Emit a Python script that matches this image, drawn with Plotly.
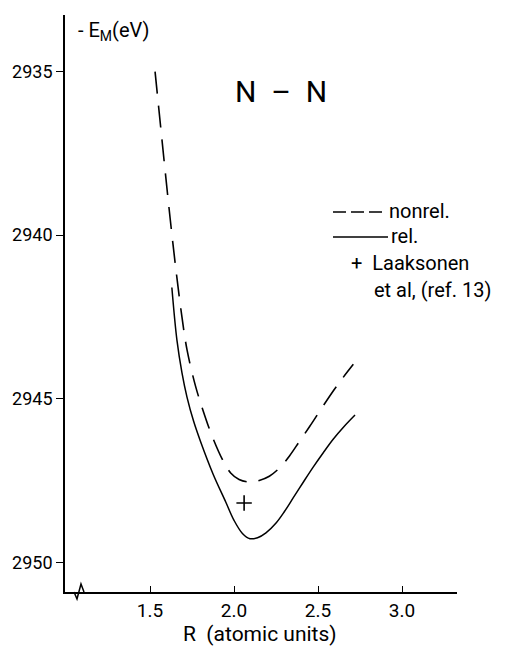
import plotly.graph_objects as go

# ---- data ----
r_nonrel = [1.53, 1.62, 1.66, 1.69, 1.72, 1.77, 1.815, 1.87, 1.935, 1.98, 2.03, 2.095, 2.15, 2.21, 2.27, 2.33, 2.39, 2.45, 2.51, 2.58, 2.645, 2.71]
e_nonrel = [2935.0, 2939.5, 2941.3, 2942.5, 2943.5, 2944.6, 2945.35, 2946.15, 2946.9, 2947.27, 2947.47, 2947.55, 2947.5, 2947.37, 2947.12, 2946.75, 2946.3, 2945.85, 2945.38, 2944.84, 2944.38, 2943.95]

r_rel = [1.63, 1.66, 1.69, 1.72, 1.76, 1.80, 1.875, 1.95, 2.00, 2.05, 2.095, 2.14, 2.19, 2.25, 2.30, 2.35, 2.41, 2.47, 2.53, 2.59, 2.655, 2.72]
e_rel = [2941.6, 2943.2, 2944.2, 2944.95, 2945.7, 2946.3, 2947.3, 2948.15, 2948.72, 2949.12, 2949.28, 2949.25, 2949.1, 2948.8, 2948.45, 2948.05, 2947.57, 2947.1, 2946.66, 2946.24, 2945.85, 2945.5]

r_laaksonen = [2.06]
e_laaksonen = [2948.19]

x_ticks = [1.5, 2.0, 2.5, 3.0]
x_ticktext = ["1.5", "2.0", "2.5", "3.0"]
y_ticks = [2935, 2940, 2945, 2950]
y_ticktext = ["2935", "2940", "2945", "2950"]

FONT = "Roboto"
INK = "black"

fig = go.Figure()
fig.add_trace(go.Scatter(x=r_nonrel, y=e_nonrel, mode="lines",
                         line=dict(color=INK, width=1.6, dash="22px,12px", shape="spline", smoothing=1.0),
                         showlegend=False, hoverinfo="skip"))
fig.add_trace(go.Scatter(x=r_rel, y=e_rel, mode="lines",
                         line=dict(color=INK, width=1.5, shape="spline", smoothing=1.0),
                         showlegend=False, hoverinfo="skip"))
fig.add_trace(go.Scatter(x=r_laaksonen, y=e_laaksonen, mode="markers",
                         marker=dict(symbol="cross-thin", size=11, line=dict(color=INK, width=1.6)),
                         showlegend=False, hoverinfo="skip"))

# the page body adds an 8px margin, so the figure is 8px smaller and shifted
fig.update_layout(
    width=513, height=639, autosize=False,
    margin=dict(l=57, r=64, t=7, b=55),
    paper_bgcolor="white", plot_bgcolor="white",
    font=dict(family=FONT, color=INK, size=20),
    xaxis=dict(range=[0.994, 3.327], tickvals=x_ticks, ticktext=x_ticktext, automargin=False,
               showgrid=False, zeroline=False, showline=True, linecolor=INK, linewidth=1.5,
               ticks="inside", ticklen=6, tickwidth=1.3, tickcolor=INK,
               tickfont=dict(size=19, family=FONT)),
    yaxis=dict(range=[2950.91, 2933.27], tickvals=y_ticks, ticktext=y_ticktext, automargin=False,
               showgrid=False, zeroline=False, showline=True, linecolor=INK, linewidth=1.8,
               ticks="outside", ticklen=7, tickwidth=1.3, tickcolor=INK,
               tickfont=dict(size=18, family=FONT)),
)

def px_x(px):
    return (px - 65) / 392.0

def px_y(py):
    return (592 - py) / 577.0

annotations = [
    dict(text="- E<sub>M</sub>(eV)", x=px_x(76), y=px_y(31), xanchor="left", yanchor="middle", font=dict(size=20)),
    dict(text="N  –  N", x=px_x(281), y=px_y(92), xanchor="center", yanchor="middle", font=dict(size=30)),
    dict(text="nonrel.", x=px_x(387), y=px_y(211), xanchor="left", yanchor="middle", font=dict(size=20)),
    dict(text="rel.", x=px_x(389), y=px_y(236), xanchor="left", yanchor="middle", font=dict(size=20)),
    dict(text="+  Laaksonen", x=px_x(349), y=px_y(263), xanchor="left", yanchor="middle", font=dict(size=20)),
    dict(text="et al, (ref. 13)", x=px_x(372), y=px_y(290), xanchor="left", yanchor="middle", font=dict(size=20)),
    dict(text="R  (atomic units)", x=px_x(260), y=px_y(634), xanchor="center", yanchor="middle", font=dict(size=21)),
]
for a in annotations:
    a.update(xref="paper", yref="paper", showarrow=False)
fig.update_layout(annotations=annotations)

shapes = [
    # legend samples
    dict(type="line", xref="paper", yref="paper", x0=px_x(333), x1=px_x(386), y0=px_y(212), y1=px_y(212),
         line=dict(color=INK, width=1.5, dash="13px,5px")),
    dict(type="line", xref="paper", yref="paper", x0=px_x(333), x1=px_x(388), y0=px_y(237), y1=px_y(237),
         line=dict(color=INK, width=1.3)),
    # axis break zigzag
    dict(type="path", xref="paper", yref="paper",
         path="M {:.4f},{:.4f} L {:.4f},{:.4f} L {:.4f},{:.4f} L {:.4f},{:.4f}".format(
             px_x(74), px_y(592), px_x(77), px_y(599), px_x(81), px_y(584), px_x(84), px_y(592)),
         line=dict(color=INK, width=1.5)),
]
fig.update_layout(shapes=shapes)

fig.write_html("out.html")
